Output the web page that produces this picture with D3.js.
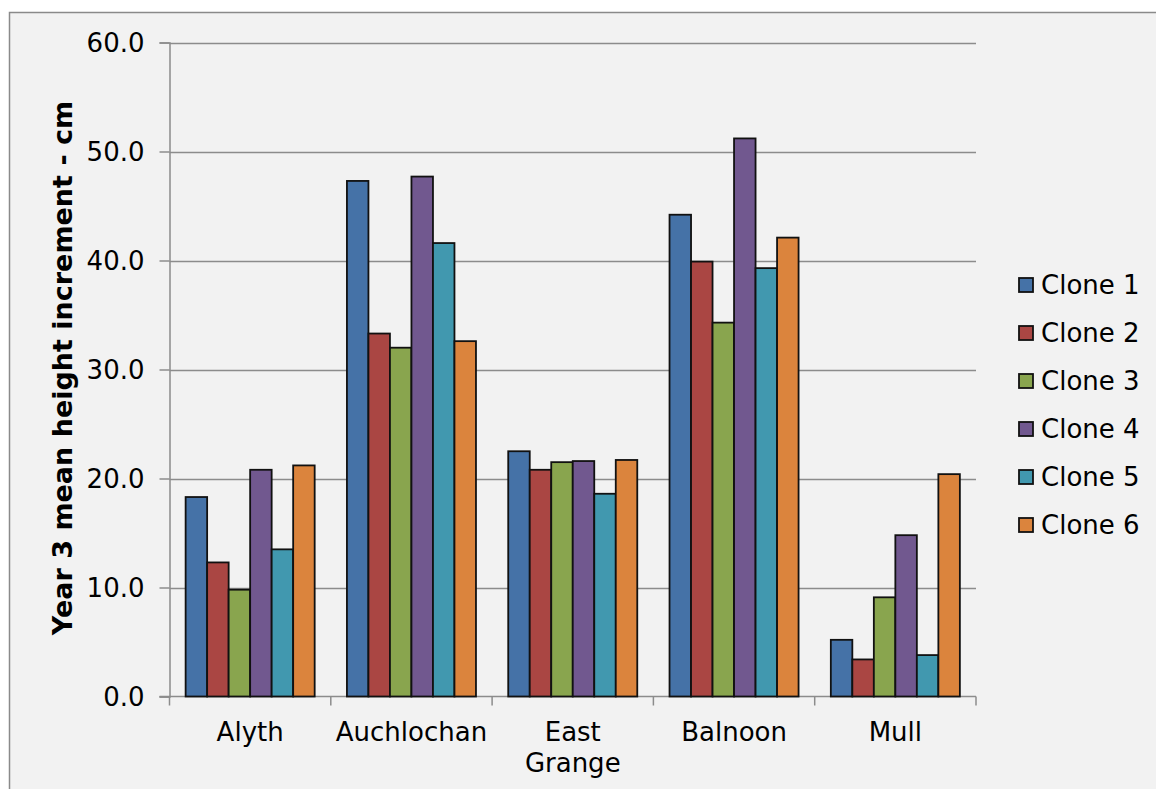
<!DOCTYPE html>
<html>
<head>
<meta charset="utf-8">
<script src="https://cdn.jsdelivr.net/npm/d3@7"></script>
<style>
  html, body { margin: 0; padding: 0; background: #ffffff; }
  svg { display: block; }
  text { font-family: "DejaVu Sans", Verdana, sans-serif; fill: #000; }
</style>
</head>
<body>
<svg id="chart" width="1156" height="789"></svg>
<script>
// Sites (x categories); "East Grange" wraps onto two lines
const sites = ["Alyth", "Auchlochan", "East Grange", "Balnoon", "Mull"];
const clones = ["Clone 1", "Clone 2", "Clone 3", "Clone 4", "Clone 5", "Clone 6"];
const colors = ["#4572a7", "#aa4643", "#89a54e", "#71588f", "#4198af", "#db843d"];

// Year 3 mean height increment (cm), one array per clone, in site order
const clone1 = [18.3, 47.3, 22.5, 44.2, 5.2];
const clone2 = [12.3, 33.3, 20.8, 39.9, 3.4];
const clone3 = [9.8, 32.0, 21.5, 34.3, 9.1];
const clone4 = [20.8, 47.7, 21.6, 51.2, 14.8];
const clone5 = [13.5, 41.6, 18.6, 39.3, 3.8];
const clone6 = [21.2, 32.6, 21.7, 42.1, 20.4];
const seriesValues = [clone1, clone2, clone3, clone4, clone5, clone6];

const yTicks = [0, 10, 20, 30, 40, 50, 60];
const yLabel = "Year 3 mean height increment - cm";

const svg = d3.select("#chart");

// chart area frame
svg.append("rect")
  .attr("x", 9.5).attr("y", 12.5)
  .attr("width", 1160).attr("height", 800)
  .attr("fill", "#f2f2f2").attr("stroke", "#8a8a8a").attr("stroke-width", 1.5);

const plot = { left: 169.5, right: 976, top: 42.5, bottom: 696.5 };

const x0 = d3.scaleBand().domain(sites).range([plot.left, plot.right]).paddingInner(0).paddingOuter(0);
// six touching bars per site, with 0.75 bar widths of space on each side
const x1 = d3.scaleBand().domain(clones).range([0, x0.bandwidth()]).paddingInner(0).paddingOuter(0.75);
const y = d3.scaleLinear().domain([0, 60]).range([plot.bottom, plot.top]);

// gridlines
svg.append("g").selectAll("line").data(yTicks.filter(t => t > 0)).join("line")
  .attr("x1", plot.left).attr("x2", plot.right)
  .attr("y1", d => Math.round(y(d)) + 0.5).attr("y2", d => Math.round(y(d)) + 0.5)
  .attr("stroke", "#8c8c8c").attr("stroke-width", 1.5);

// y axis
const yAxis = d3.axisLeft(y).tickValues(yTicks).tickSize(10).tickFormat(d3.format(".1f"));
const gy = svg.append("g").attr("transform", `translate(${plot.left},0)`).call(yAxis);
gy.select(".domain").attr("stroke", "#8c8c8c").attr("stroke-width", 1.5);
gy.selectAll(".tick line").attr("stroke", "#8c8c8c").attr("stroke-width", 1.5);
gy.selectAll(".tick text").attr("x", -25).attr("dy", "0.35em")
  .style("font-size", "26px").style("font-family", "DejaVu Sans, Verdana, sans-serif").attr("fill", "#000");

// x axis with ticks at category boundaries
const gx = svg.append("g").attr("transform", `translate(0,${plot.bottom})`);
gx.append("line").attr("x1", plot.left - 10).attr("x2", plot.right)
  .attr("y1", 0).attr("y2", 0).attr("stroke", "#8c8c8c").attr("stroke-width", 1.5);
const bounds = sites.map(s => x0(s)).concat([x0(sites[sites.length - 1]) + x0.bandwidth()]);
gx.selectAll("line.tk").data(bounds).join("line").attr("class", "tk")
  .attr("x1", d => d).attr("x2", d => d).attr("y1", 0).attr("y2", 9)
  .attr("stroke", "#8c8c8c").attr("stroke-width", 1.5);
gx.selectAll("text.cat").data(sites).join("text").attr("class", "cat")
  .attr("text-anchor", "middle")
  .attr("transform", d => `translate(${x0(d) + x0.bandwidth() / 2},44)`)
  .style("font-size", "26px")
  .each(function(d) {
    const words = d.split(" ");
    const lines = (d === "East Grange") ? words : [d];
    d3.select(this).selectAll("tspan").data(lines).join("tspan")
      .attr("x", 0).attr("dy", (l, i) => i === 0 ? 0 : "1.22em").text(l => l);
  });

// bars
const groups = svg.append("g").selectAll("g").data(sites).join("g")
  .attr("transform", d => `translate(${x0(d)},0)`);
groups.selectAll("rect").data((s, si) => clones.map((c, ci) => ({ c, ci, v: seriesValues[ci][si] })))
  .join("rect")
  .attr("x", d => x1(d.c))
  .attr("width", x1.bandwidth())
  .attr("y", d => y(d.v))
  .attr("height", d => y(0) - y(d.v))
  .attr("fill", d => colors[d.ci])
  .attr("stroke", "#111").attr("stroke-width", 1.8);

// y axis title
svg.append("text")
  .attr("transform", `translate(72,368) rotate(-90)`)
  .attr("text-anchor", "middle")
  .style("font-size", "27px").style("font-weight", "bold")
  .text(yLabel);

// legend
const legend = svg.append("g").attr("transform", "translate(1019,285)");
const li = legend.selectAll("g").data(clones).join("g")
  .attr("transform", (d, i) => `translate(0,${i * 48})`);
li.append("rect").attr("x", 0).attr("y", -7).attr("width", 14).attr("height", 14)
  .attr("fill", (d, i) => colors[i]).attr("stroke", "#111").attr("stroke-width", 1.8);
li.append("text").attr("x", 22).attr("dy", "0.36em")
  .style("font-size", "26px").text(d => d);
</script>
</body>
</html>
